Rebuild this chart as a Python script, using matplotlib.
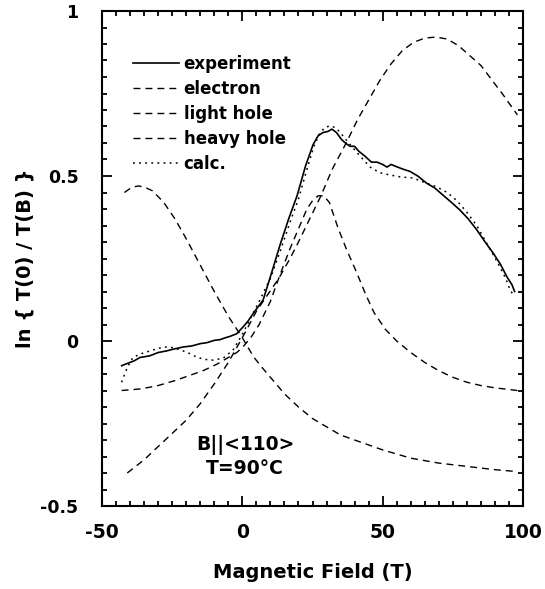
import matplotlib
matplotlib.use("Agg")
import matplotlib.pyplot as plt
from matplotlib.ticker import MultipleLocator, FixedLocator

plt.rcParams['font.family'] = ['DejaVu Sans']
plt.rcParams['font.weight'] = 'bold'

# ---- data ----
exp_x = [-43, -41, -38.5, -36.5, -33, -30, -27, -24.7, -21, -18, -15, -12.6, -10, -8, -6, -4.4, -2, 0.3,
         2, 4, 7.4, 10, 13.4, 16.5, 19.5, 22.5, 25.2, 27, 28.8, 30.5, 31.9, 33.5, 35.4, 37, 38.4, 40,
         41.5, 43.7, 46, 48, 50, 51.5, 53, 55, 57.5, 59.7, 62.5, 65.7, 68.5, 71.5, 74.5, 77.5, 80.5,
         83.6, 86.5, 89.4, 92, 94.3, 96.1, 97]
exp_y = [-0.075, -0.068, -0.06, -0.05, -0.045, -0.035, -0.03, -0.025, -0.018, -0.015, -0.008, -0.005,
         0.002, 0.004, 0.01, 0.014, 0.022, 0.043, 0.06, 0.085, 0.124, 0.195, 0.29, 0.37, 0.44, 0.53,
         0.595, 0.622, 0.632, 0.635, 0.642, 0.632, 0.61, 0.598, 0.59, 0.59, 0.575, 0.56, 0.542, 0.542,
         0.535, 0.527, 0.535, 0.528, 0.52, 0.514, 0.50, 0.478, 0.464, 0.442, 0.42, 0.397, 0.37, 0.336,
         0.30, 0.266, 0.232, 0.194, 0.17, 0.15]

calc_x = [-43, -41, -39, -36.5, -34, -31, -28, -25, -22, -19, -16, -13, -10.4, -6.8, -3.3, 0, 3, 6, 10,
          13.4, 17, 20, 23, 25.5, 27.5, 29.5, 31.5, 33.5, 35.5, 38.4, 42, 45.5, 49, 52.6, 56.5, 60.8,
          65.7, 69, 73, 76.5, 80, 83.5, 87, 89.5, 91.8, 93.8, 95.4, 96.5]
calc_y = [-0.125, -0.08, -0.05, -0.04, -0.033, -0.025, -0.018, -0.02, -0.027, -0.037, -0.05, -0.056,
          -0.058, -0.052, -0.027, 0.02, 0.07, 0.12, 0.19, 0.27, 0.36, 0.43, 0.52, 0.59, 0.628, 0.648,
          0.652, 0.645, 0.625, 0.595, 0.56, 0.527, 0.51, 0.503, 0.497, 0.494, 0.478, 0.468, 0.45,
          0.425, 0.39, 0.35, 0.297, 0.26, 0.224, 0.19, 0.155, 0.14]

ele_x = [-41, -35, -30, -25, -20, -15, -10, -5, 0, 5, 9, 13, 17, 20, 24, 28, 32, 37, 41, 45, 49, 53,
         57, 61, 65, 69, 73, 77, 81, 85, 89, 93, 98]
ele_y = [-0.40, -0.36, -0.32, -0.28, -0.24, -0.19, -0.13, -0.065, 0.01, 0.09, 0.14, 0.19, 0.25, 0.30,
         0.37, 0.44, 0.52, 0.60, 0.67, 0.73, 0.79, 0.84, 0.88, 0.905, 0.918, 0.921, 0.915, 0.895, 0.865,
         0.835, 0.79, 0.745, 0.685]

lh_x = [-43, -36, -30, -24, -19, -14, -9, -5, -2, 0, 3, 6, 10, 13.4, 17, 20, 23, 25, 27, 29, 31, 34,
        37, 40.8, 44, 47, 51, 55, 60, 65, 70, 75, 80, 85, 90, 98]
lh_y = [-0.15, -0.145, -0.135, -0.12, -0.105, -0.09, -0.07, -0.05, -0.035, -0.02, 0.01, 0.05, 0.12, 0.2,
        0.28, 0.34, 0.40, 0.425, 0.44, 0.44, 0.42, 0.345, 0.28, 0.206, 0.14, 0.085, 0.035, 0.0, -0.035,
        -0.065, -0.09, -0.11, -0.125, -0.135, -0.142, -0.15]

hh_x = [-42, -39.5, -37, -34.5, -32, -28, -24, -20, -15, -10, -5, 0, 4, 7, 10, 15, 20, 25, 30, 35,
        40, 50, 60, 70, 80, 90, 97]
hh_y = [0.45, 0.465, 0.47, 0.465, 0.455, 0.42, 0.37, 0.31, 0.23, 0.15, 0.075, 0.01, -0.048, -0.08,
        -0.11, -0.16, -0.20, -0.235, -0.26, -0.285, -0.30, -0.33, -0.355, -0.37, -0.38, -0.39, -0.395]

labels = ['experiment', 'electron', 'light hole', 'heavy hole', 'calc.']
xticks = [-50, 0, 50, 100]
yticks = [-0.5, 0, 0.5, 1]
xticklabels = ['-50', '0', '50', '100']
yticklabels = ['-0.5', '0', '0.5', '1']

# ---- figure ----
fig = plt.figure(figsize=(5.45, 5.89), dpi=100)
ax = fig.add_axes([102/545, 1-506/589, 421/545, 495/589])

dash = (0, (5, 3.6))
ax.plot(exp_x, exp_y, color='black', lw=1.2, ls='-', label=labels[0])
ax.plot(ele_x, ele_y, color='black', lw=1.0, ls=dash, label=labels[1])
ax.plot(lh_x, lh_y, color='black', lw=1.0, ls=dash, label=labels[2])
ax.plot(hh_x, hh_y, color='black', lw=1.0, ls=dash, label=labels[3])
ax.plot(calc_x, calc_y, color='black', lw=1.1, ls=(0, (1.2, 2.8)), label=labels[4])

ax.set_xlim(-50, 100)
ax.set_ylim(-0.5, 1)
ax.xaxis.set_major_locator(FixedLocator(xticks))
ax.yaxis.set_major_locator(FixedLocator(yticks))
ax.set_xticklabels(xticklabels)
ax.set_yticklabels(yticklabels)
ax.xaxis.set_minor_locator(MultipleLocator(5))
ax.yaxis.set_minor_locator(MultipleLocator(0.05))
ax.tick_params(which='both', direction='in', top=True, right=True, width=1.3)
ax.tick_params(which='major', length=7)
ax.tick_params(which='minor', length=3.5)
ax.tick_params(axis='x', which='major', labelsize=13.5, pad=12)
ax.tick_params(axis='y', which='major', labelsize=12.5, pad=17)
for s in ax.spines.values():
    s.set_linewidth(1.5)
for t in ax.get_xticklabels() + ax.get_yticklabels():
    t.set_fontweight('bold')

ax.set_xlabel('Magnetic Field (T)', fontsize=14, fontweight='bold', labelpad=15)
ax.set_ylabel('ln { T(0) / T(B) }', fontsize=14, fontweight='bold', labelpad=4)

ax.text(1, -0.315, 'B||<110>', ha='center', va='center', fontsize=13.5, fontweight='bold')
ax.text(1, -0.385, 'T=90°C', ha='center', va='center', fontsize=13.5, fontweight='bold')

leg = ax.legend(loc='upper left', bbox_to_anchor=(24/421, 1-37/495), frameon=False,
                fontsize=12, handlelength=2.75, handletextpad=0.3, labelspacing=0.42,
                borderaxespad=0)
for t in leg.get_texts():
    t.set_fontweight('bold')

fig.savefig('out.png', dpi=100)
